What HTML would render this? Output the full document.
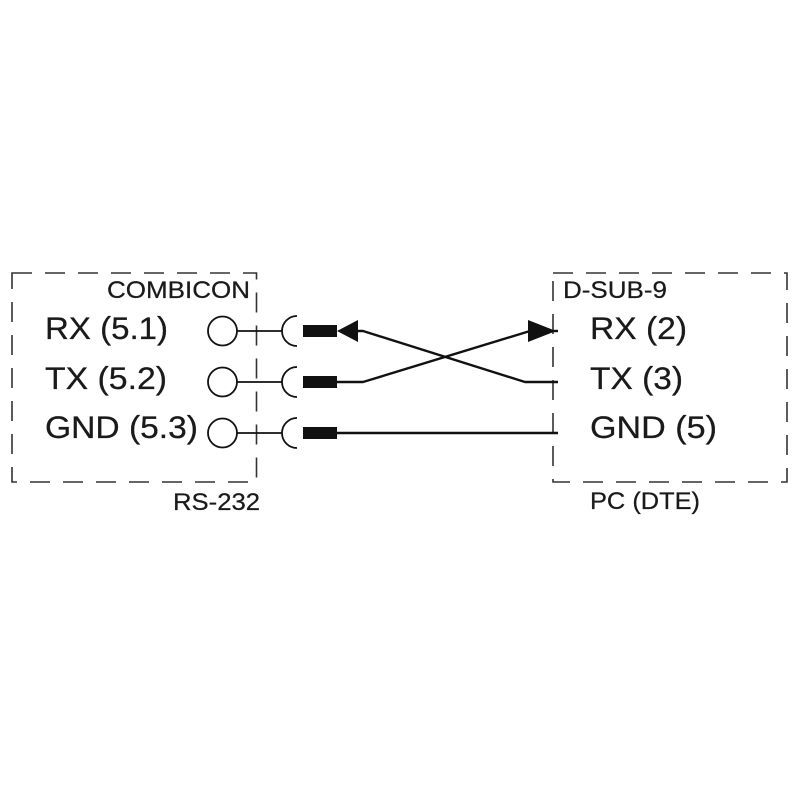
<!DOCTYPE html>
<html>
<head>
<meta charset="utf-8">
<style>
  html, body { margin: 0; padding: 0; background: #fff; }
  svg { display: block; }
  text { font-family: "Liberation Sans", Arial, sans-serif; fill: #1a1a1a; stroke: #1a1a1a; stroke-width: 0.25; }
</style>
</head>
<body>
<svg width="800" height="800" viewBox="0 0 800 800" xmlns="http://www.w3.org/2000/svg">
  <rect width="800" height="800" fill="#ffffff"/>

  <!-- dashed boxes -->
  <g fill="none" stroke="#333" stroke-width="1.6" stroke-dasharray="20 13">
    <rect x="12" y="273" width="244.5" height="209"/>
    <rect x="553" y="273" width="234" height="209"/>
  </g>

  <!-- box titles -->
  <text x="107" y="298" font-size="24" textLength="143" lengthAdjust="spacingAndGlyphs">COMBICON</text>
  <text x="563" y="298" font-size="24" textLength="104" lengthAdjust="spacingAndGlyphs">D-SUB-9</text>
  <text x="173" y="510" font-size="24" textLength="87" lengthAdjust="spacingAndGlyphs">RS-232</text>
  <text x="590" y="509" font-size="24" textLength="110" lengthAdjust="spacingAndGlyphs">PC (DTE)</text>

  <!-- left labels -->
  <text x="45" y="339" font-size="31.5" textLength="123" lengthAdjust="spacingAndGlyphs">RX (5.1)</text>
  <text x="45" y="389" font-size="31.5" textLength="122" lengthAdjust="spacingAndGlyphs">TX (5.2)</text>
  <text x="45" y="438" font-size="31.5" textLength="153" lengthAdjust="spacingAndGlyphs">GND (5.3)</text>

  <!-- right labels -->
  <text x="590" y="339" font-size="31.5" textLength="97" lengthAdjust="spacingAndGlyphs">RX (2)</text>
  <text x="590" y="389" font-size="31.5" textLength="93" lengthAdjust="spacingAndGlyphs">TX (3)</text>
  <text x="590" y="438" font-size="31.5" textLength="127" lengthAdjust="spacingAndGlyphs">GND (5)</text>

  <!-- terminals -->
  <g fill="none" stroke="#111" stroke-width="1.8">
    <circle cx="222.5" cy="331" r="14.5"/>
    <circle cx="222.5" cy="382" r="14.5"/>
    <circle cx="222.5" cy="433" r="14.5"/>
    <line x1="237" y1="331" x2="282" y2="331"/>
    <line x1="237" y1="382" x2="282" y2="382"/>
    <line x1="237" y1="433" x2="282" y2="433"/>
    <path d="M297,316 A15,15 0 0 0 297,346"/>
    <path d="M297,367 A15,15 0 0 0 297,397"/>
    <path d="M297,418 A15,15 0 0 0 297,448"/>
  </g>

  <!-- plug bodies -->
  <g fill="#111">
    <rect x="303" y="325" width="34" height="12"/>
    <rect x="303" y="376" width="34" height="12"/>
    <rect x="303" y="427" width="34" height="12"/>
    <!-- arrowheads -->
    <polygon points="337,331 358,320 358,342"/>
    <polygon points="556,331 528,320 528,342"/>
  </g>

  <!-- wires -->
  <g fill="none" stroke="#111" stroke-width="2.4" stroke-linejoin="round">
    <polyline points="356,331 363,331 525,382 558,382"/>
    <polyline points="337,382 363,382 530,331"/>
    <line x1="550" y1="331" x2="558" y2="331"/>
    <line x1="337" y1="433" x2="558" y2="433"/>
  </g>
</svg>
</body>
</html>
